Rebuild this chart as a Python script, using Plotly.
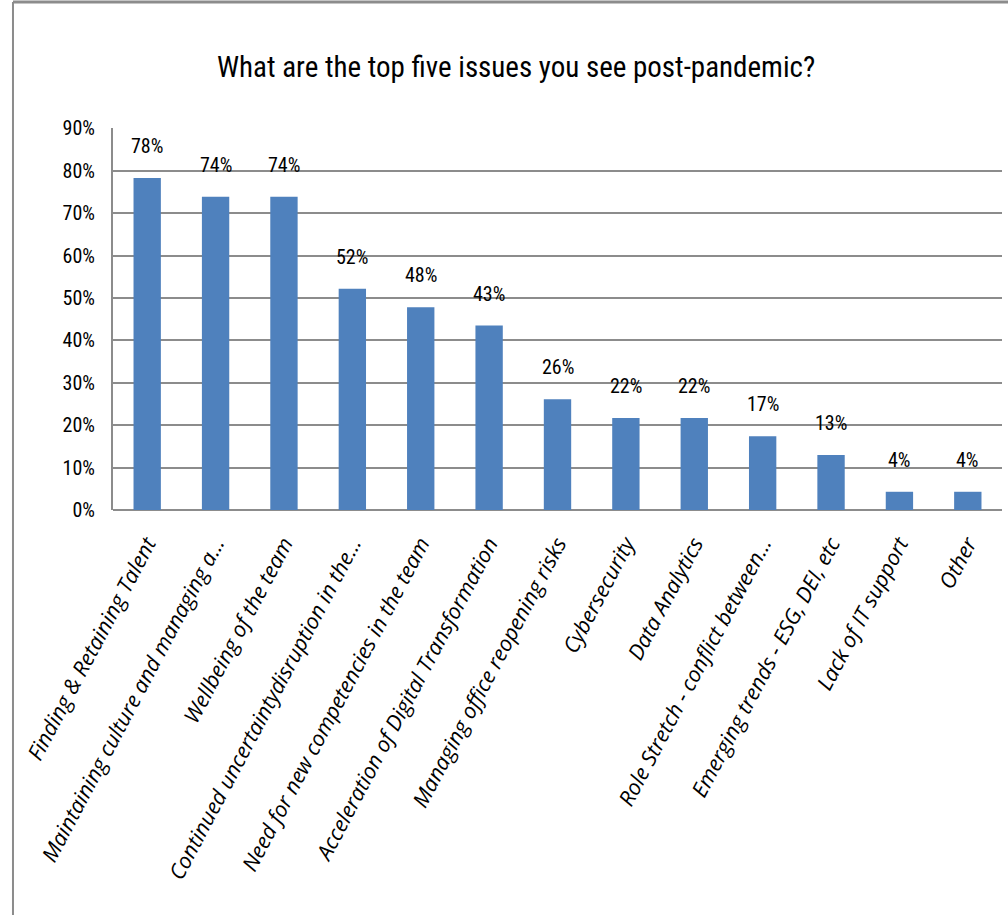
import plotly.graph_objects as go

categories = [
    "Finding & Retaining Talent",
    "Maintaining culture and managing a...",
    "Wellbeing of the team",
    "Continued uncertaintydisruption in the...",
    "Need for new competencies in the team",
    "Acceleration of Digital Transformation",
    "Managing office reopening risks",
    "Cybersecurity",
    "Data Analytics",
    "Role Stretch - conflict between...",
    "Emerging trends - ESG, DEI, etc",
    "Lack of IT support",
    "Other",
]
values = [78.3, 73.9, 73.9, 52.2, 47.8, 43.5, 26.1, 21.7, 21.7, 17.4, 13.0, 4.3, 4.3]
value_labels = ["78%", "74%", "74%", "52%", "48%", "43%", "26%", "22%", "22%", "17%", "13%", "4%", "4%"]
y_ticks = [0, 10, 20, 30, 40, 50, 60, 70, 80, 90]
y_tick_labels = [f"{t}%" for t in y_ticks]

FONT = "Roboto Condensed, Liberation Sans, sans-serif"
GRID = "#8c8c8c"

fig = go.Figure(
    go.Bar(
        x=categories,
        y=values,
        marker=dict(color="#4F81BD", line=dict(width=0)),
        hoverinfo="skip",
    )
)

for cat, val, lab in zip(categories, values, value_labels):
    fig.add_annotation(
        x=cat, y=val, text=lab, showarrow=False,
        xanchor="center", yanchor="bottom", yshift=18,
        font=dict(family=FONT, size=20, color="#000000"),
    )

fig.update_layout(
    width=1008,
    height=915,
    paper_bgcolor="white",
    plot_bgcolor="white",
    showlegend=False,
    bargap=0.6,
    margin=dict(l=113, r=6, t=128, b=405, autoexpand=False),
    title=dict(
        text="What are the top five issues you see post-pandemic?",
        x=0.512,
        xanchor="center",
        y=0.927,
        yanchor="middle",
        font=dict(family=FONT, size=29, color="#000000"),
    ),
    xaxis=dict(
        type="category",
        tickangle=-62,
        tickfont=dict(family="Open Sans, sans-serif", size=21.5, color="#000000", style="italic"),
        showgrid=False,
        showline=False,
        ticks="",
        ticklabelstandoff=16,
        automargin=False,
    ),
    yaxis=dict(
        range=[0, 90.1],
        tickvals=y_ticks,
        ticktext=y_tick_labels,
        tickfont=dict(family=FONT, size=20, color="#000000"),
        showgrid=True,
        gridcolor=GRID,
        gridwidth=2,
        zeroline=True,
        zerolinecolor=GRID,
        zerolinewidth=2,
        showline=True,
        linecolor=GRID,
        linewidth=2,
        ticks="",
        ticklabelstandoff=12,
        automargin=False,
    ),
    shapes=[
        dict(type="line", xref="paper", yref="paper", x0=-0.1125, x1=1.01, y0=1.3298, y1=1.3298,
             line=dict(color=GRID, width=3)),
        dict(type="line", xref="paper", yref="paper", x0=-0.1125, x1=-0.1125, y0=1.3298, y1=-1.2,
             line=dict(color=GRID, width=2)),
    ],
)

fig.write_html(
    "out.html",
    config={"displayModeBar": False},
    post_script="document.body.style.margin='0';document.body.style.overflow='hidden';",
)
